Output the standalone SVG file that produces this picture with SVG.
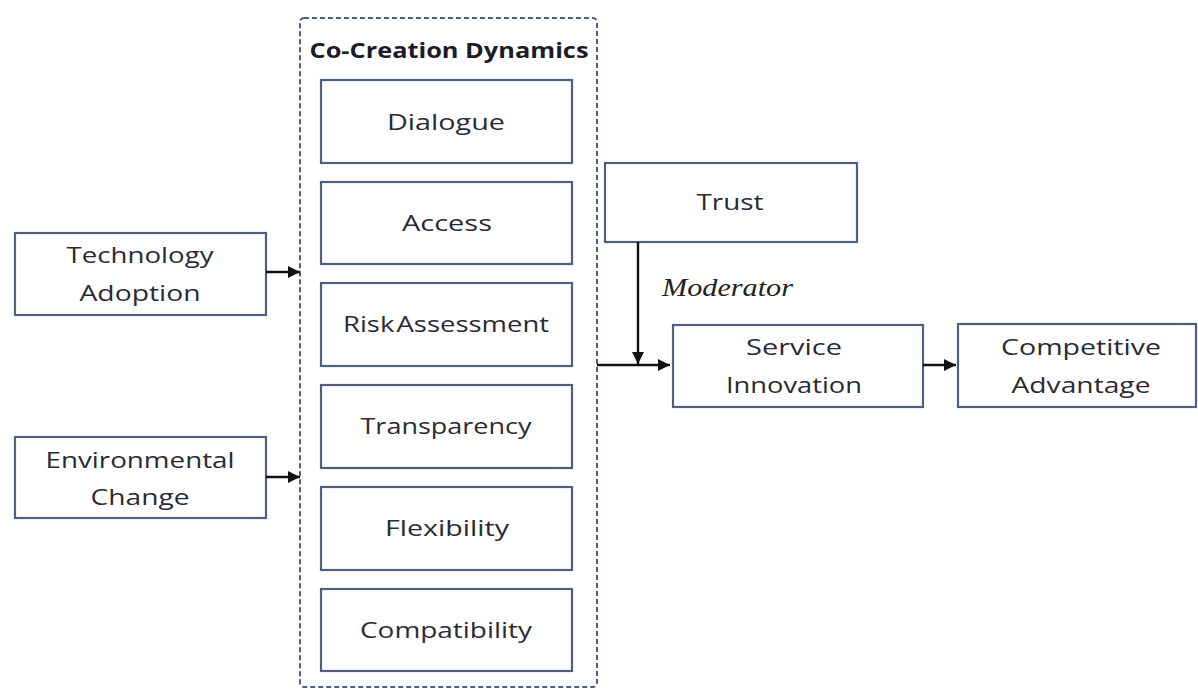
<svg xmlns="http://www.w3.org/2000/svg" width="1198" height="689" viewBox="0 0 1198 689">
  <style>
    .box { fill: #ffffff; stroke: #4f5f7e; stroke-width: 2.2; }
    .group { fill: none; stroke: #4f5f7e; stroke-width: 2; stroke-dasharray: 5 3; }
    .lbl { font-family: "Open Sans", "DejaVu Sans", sans-serif; font-size: 22px; fill: #2a2a34; text-anchor: middle; }
    .title { font-family: "Open Sans", "DejaVu Sans", sans-serif; font-size: 22px; font-weight: bold; fill: #1c1c28; text-anchor: middle; }
    .mod { font-family: "Liberation Serif", "DejaVu Serif", serif; font-style: italic; font-size: 26px; fill: #222222; }
    .wire { fill: none; stroke: #111111; stroke-width: 2.4; }
  </style>
  <defs>
    <marker id="arrow" viewBox="0 0 10 10" refX="10" refY="5" markerWidth="5" markerHeight="5" orient="auto" markerUnits="strokeWidth">
      <path d="M0,0 L10,5 L0,10 z" fill="#111111"/>
    </marker>
  </defs>
  <rect width="1198" height="689" fill="#ffffff"/>

  <!-- co-creation container -->
  <g id="co-creation">
    <rect class="group" x="300" y="18" width="297" height="669" rx="4"/>
    <text class="title" x="449" y="58" textLength="279" lengthAdjust="spacingAndGlyphs">Co-Creation Dynamics</text>
  </g>

  <g id="dialogue">
    <rect class="box" x="321" y="80" width="251" height="83"/>
    <text class="lbl" x="446" y="130" textLength="118" lengthAdjust="spacingAndGlyphs">Dialogue</text>
  </g>
  <g id="access">
    <rect class="box" x="321" y="182" width="251" height="82"/>
    <text class="lbl" x="447" y="231" textLength="90" lengthAdjust="spacingAndGlyphs">Access</text>
  </g>
  <g id="risk-assessment">
    <rect class="box" x="321" y="283" width="251" height="83"/>
    <text class="lbl" x="446" y="332" textLength="206" lengthAdjust="spacingAndGlyphs" word-spacing="-4">Risk Assessment</text>
  </g>
  <g id="transparency">
    <rect class="box" x="321" y="385" width="251" height="83"/>
    <text class="lbl" x="446" y="434" textLength="171" lengthAdjust="spacingAndGlyphs">Transparency</text>
  </g>
  <g id="flexibility">
    <rect class="box" x="321" y="487" width="251" height="83"/>
    <text class="lbl" x="447" y="536" textLength="124" lengthAdjust="spacingAndGlyphs">Flexibility</text>
  </g>
  <g id="compatibility">
    <rect class="box" x="321" y="589" width="251" height="82"/>
    <text class="lbl" x="446" y="638" textLength="172" lengthAdjust="spacingAndGlyphs">Compatibility</text>
  </g>

  <g id="technology-adoption">
    <rect class="box" x="15" y="233" width="251" height="82"/>
    <text class="lbl" x="140" y="263" textLength="147" lengthAdjust="spacingAndGlyphs">Technology</text>
    <text class="lbl" x="140" y="301" textLength="121" lengthAdjust="spacingAndGlyphs">Adoption</text>
  </g>
  <g id="environmental-change">
    <rect class="box" x="15" y="437" width="251" height="81"/>
    <text class="lbl" x="140" y="468" textLength="189" lengthAdjust="spacingAndGlyphs">Environmental</text>
    <text class="lbl" x="140" y="505" textLength="99" lengthAdjust="spacingAndGlyphs">Change</text>
  </g>

  <g id="trust">
    <rect class="box" x="605" y="163" width="252" height="79"/>
    <text class="lbl" x="730" y="210" textLength="67" lengthAdjust="spacingAndGlyphs">Trust</text>
  </g>
  <g id="service-innovation">
    <rect class="box" x="673" y="325" width="250" height="82"/>
    <text class="lbl" x="794" y="355" textLength="96" lengthAdjust="spacingAndGlyphs">Service</text>
    <text class="lbl" x="794" y="393" textLength="136" lengthAdjust="spacingAndGlyphs">Innovation</text>
  </g>
  <g id="competitive-advantage">
    <rect class="box" x="958" y="324" width="238" height="83"/>
    <text class="lbl" x="1081" y="355" textLength="160" lengthAdjust="spacingAndGlyphs">Competitive</text>
    <text class="lbl" x="1081" y="393" textLength="139" lengthAdjust="spacingAndGlyphs">Advantage</text>
  </g>

  <g id="connectors">
    <line class="wire" x1="266" y1="272" x2="300" y2="272" marker-end="url(#arrow)"/>
    <line class="wire" x1="266" y1="477" x2="300" y2="477" marker-end="url(#arrow)"/>
    <line class="wire" x1="597" y1="365" x2="670" y2="365" marker-end="url(#arrow)"/>
    <line class="wire" x1="638" y1="242" x2="638" y2="364" marker-end="url(#arrow)"/>
    <line class="wire" x1="923" y1="365" x2="956" y2="365" marker-end="url(#arrow)"/>
    <text class="mod" x="662" y="296" textLength="131" lengthAdjust="spacingAndGlyphs">Moderator</text>
  </g>
</svg>
